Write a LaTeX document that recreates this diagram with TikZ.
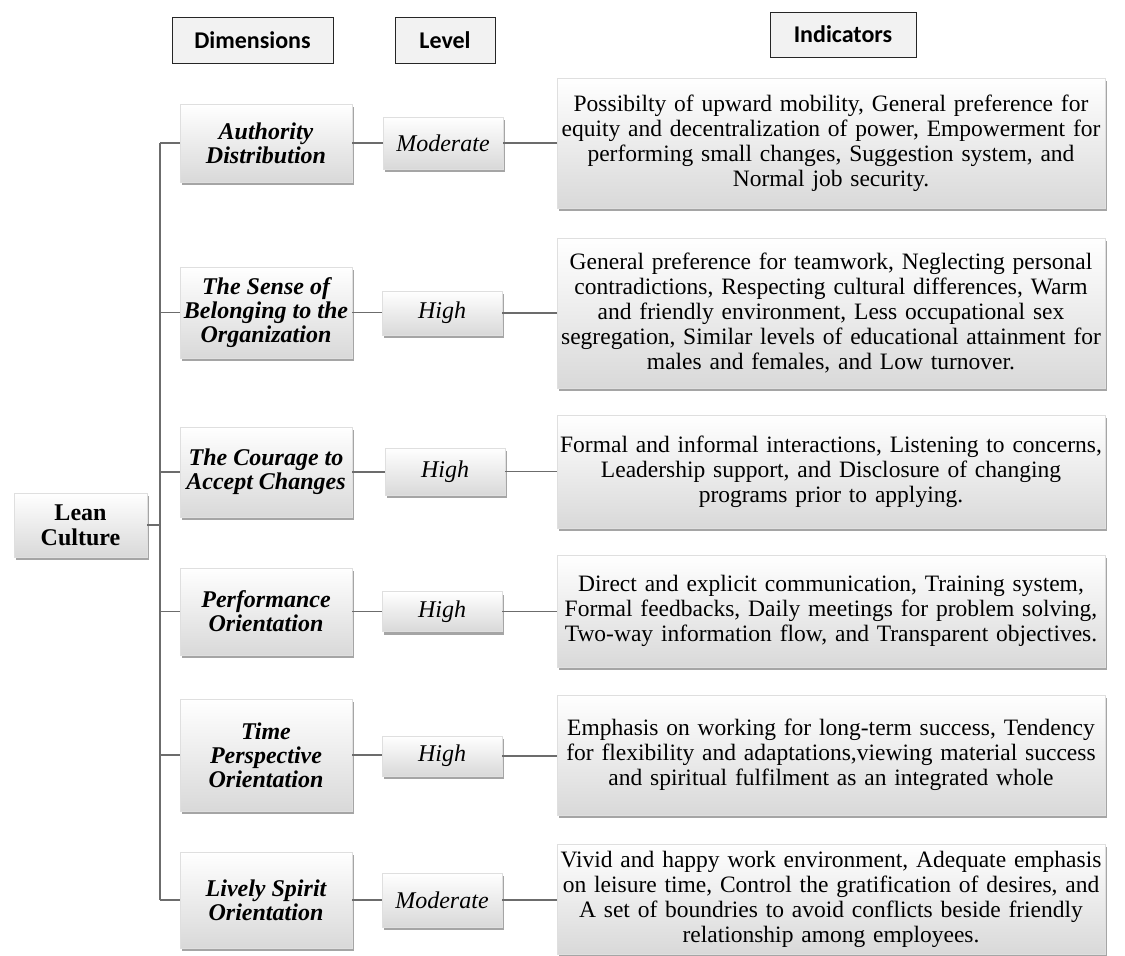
\documentclass[tikz,border=0pt]{standalone}
\usepackage{fontspec}
\setmainfont{Liberation Serif}
\newfontfamily\headfont{Carlito}
\usetikzlibrary{shadows}
\tikzset{
    head-box/.style = {draw=black!85, fill=gray!10, line width=0.9pt, rectangle, font=\headfont\fontsize{24}{26}\selectfont\bfseries, inner sep=0pt},
    shade-box/.style = {rectangle, draw=gray!25, thin, top color=white, bottom color=gray!30, inner sep=2pt, align=center,
        drop shadow={shadow xshift=1.5pt, shadow yshift=-3pt, opacity=0.5, fill=black!70}},
    dim-box/.style = {shade-box, minimum width=172pt, font=\fontsize{24}{24}\selectfont\bfseries\itshape},
    level-box/.style = {shade-box, minimum width=120pt, font=\fontsize{24}{25}\selectfont\itshape},
    ind-box/.style = {shade-box, minimum width=548pt, text width=544pt, font=\fontsize{23.5}{25}\selectfont},
    link/.style = {draw=gray!85!black, line width=1.5pt},
}

\begin{document}
\begin{tikzpicture}[x=1pt, y=-1pt]
\useasboundingbox (0,0) rectangle (1125,956);

% column headings
\node[head-box, minimum width=161pt, minimum height=46pt] (h-dim) at (252.5,40) {Dimensions};
\node[head-box, minimum width=100pt, minimum height=46pt] (h-level) at (445,40) {Level};
\node[head-box, minimum width=146pt, minimum height=45pt] (h-ind) at (843,34.5) {Indicators};

% root
\node[shade-box, minimum width=133pt, minimum height=64pt, font=\fontsize{24}{25}\selectfont\bfseries] (lean) at (80.5,525) {Lean\\Culture};

% dimensions
\node[dim-box, minimum height=78pt] (dim1) at (266,143) {Authority\\Distribution};
\node[dim-box, minimum height=91pt] (dim2) at (266,312.5) {The Sense of\\Belonging to the\\Organization};
\node[dim-box, minimum height=90pt] (dim3) at (266,472) {The Courage to\\Accept Changes};
\node[dim-box, minimum height=87pt] (dim4) at (266,611.5) {Performance\\Orientation};
\node[dim-box, minimum height=112pt] (dim5) at (266,755) {Time\\Perspective\\Orientation};
\node[dim-box, minimum height=96pt] (dim6) at (266,900) {Lively Spirit\\Orientation};

% levels
\node[level-box, minimum height=52pt] (lvl1) at (443,143) {Moderate};
\node[level-box, minimum height=44pt] (lvl2) at (442,313) {High};
\node[level-box, minimum height=47pt] (lvl3) at (445,471.5) {High};
\node[level-box, minimum height=40pt] (lvl4) at (442,611.5) {High};
\node[level-box, minimum height=40pt] (lvl5) at (442,756) {High};
\node[level-box, minimum height=54pt] (lvl6) at (442,900) {Moderate};

% indicators
\node[ind-box, minimum height=130pt] (ind1) at (831,143) {Possibilty of upward mobility, General preference for\\equity and decentralization of power, Empowerment for\\performing small changes, Suggestion system, and\\Normal job security.};
\node[ind-box, minimum height=150pt] (ind2) at (831,313) {General preference for teamwork, Neglecting personal\\contradictions, Respecting cultural differences, Warm\\and friendly environment, Less occupational sex\\segregation, Similar levels of educational attainment for\\males and females, and Low turnover.};
\node[ind-box, minimum height=113pt] (ind3) at (831,471.5) {Formal and informal interactions, Listening to concerns,\\Leadership support, and Disclosure of changing\\programs prior to applying.};
\node[ind-box, minimum height=112pt] (ind4) at (831,611) {Direct and explicit communication, Training system,\\Formal feedbacks, Daily meetings for problem solving,\\Two-way information flow, and Transparent objectives.};
\node[ind-box, minimum height=120pt] (ind5) at (831,755) {Emphasis on working for long-term success, Tendency\\for flexibility and adaptations,viewing material success\\and spiritual fulfilment as an integrated whole};
\node[ind-box, minimum height=110pt] (ind6) at (831,899) {Vivid and happy work environment, Adequate emphasis\\on leisure time, Control the gratification of desires, and\\A set of boundries to avoid conflicts beside friendly\\relationship among employees.};

% connectors
\coordinate (bus) at (160,0);
\draw[link] (dim1.west -| bus) -- (dim6.west -| bus);
\draw[link] (lean.east) -- (lean.east -| bus);
\foreach \i in {1,...,6} {
    \draw[link] (dim\i.west) -- (dim\i.west -| bus);
    \draw[link] (dim\i.east) -- (dim\i.east -| lvl\i.west);
    \draw[link] (lvl\i.east) -- (lvl\i.east -| ind\i.west);
}
\end{tikzpicture}
\end{document}
